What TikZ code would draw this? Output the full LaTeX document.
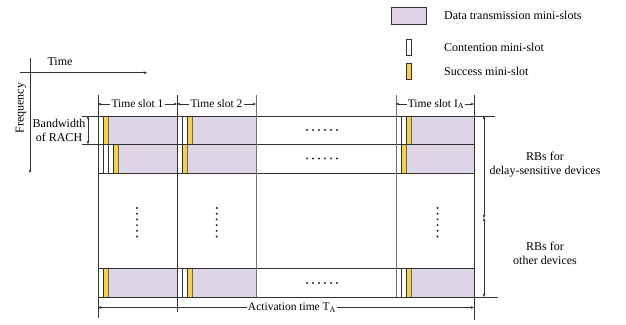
\documentclass[tikz,border=0pt]{standalone}
\usepackage{fontspec}
\setmainfont{Liberation Serif}
\usetikzlibrary{arrows.meta}
\definecolor{dpurple}{RGB}{221,213,229}
\definecolor{syellow}{RGB}{250,206,72}
\definecolor{gline}{RGB}{50,50,50}
\tikzset{
  gridline/.style={draw=gline,line width=0.65pt},
  softline/.style={draw=black!55,line width=0.65pt},
  wslot/.style={draw=gline,line width=0.5pt,fill=white},
  yslot/.style={draw=gline,line width=0.5pt,fill=syellow},
  pslot/.style={draw=black!60,line width=0.5pt,fill=dpurple},
  arr/.style={draw=gline,line width=0.5pt,-{Stealth[length=3.4pt,width=2.8pt]}},
  darr/.style={draw=gline,line width=0.5pt,{Stealth[length=3.4pt,width=2.8pt]}-{Stealth[length=3.4pt,width=2.8pt]}},
  lbl/.style={font=\fontsize{11.5}{13}\selectfont,inner sep=1pt},
  txt/.style={font=\fontsize{12}{14}\selectfont,inner sep=1pt,align=center},
  dotf/.style={fill=black!85}
}
% #1 x0, #2 ytop, #3 ybottom, #4 number of contention mini-slots, #5 xend
\newcommand\slotrow[5]{%
  \foreach \i in {1,...,#4} {\draw[wslot] ({#1+5*(\i-1)},#2) rectangle ({#1+5*\i},#3);}
  \pgfmathsetmacro\ysx{#1+5*#4}
  \draw[yslot] (\ysx,#2) rectangle ({\ysx+5},#3);
  \draw[pslot] ({\ysx+5},#2) rectangle (#5,#3);
}
\newcommand\hdots[2]{\foreach \k in {0,...,5} {\fill[dotf] ({#1+6*\k},#2) circle (1.1pt);}}
\newcommand\vdotsx[2]{\foreach \k in {0,...,5} {\fill[dotf] (#1,{#2+5.7*\k}) circle (1.1pt);}}
\begin{document}
\begin{tikzpicture}[x=1pt,y=-1pt]
\useasboundingbox (0,0) rectangle (626,324);
% legend
\draw[pslot,draw=gline] (391,7) rectangle (426,24);
\node[txt,anchor=west] (lg1) at (443,15.5) {Data transmission mini-slots};
\draw[wslot] (406.7,39) rectangle (411.7,55);
\node[txt,anchor=west] (lg2) at (443,47) {Contention mini-slot};
\draw[yslot] (406.7,63) rectangle (411.7,79);
\node[txt,anchor=west] (lg3) at (443,71) {Success mini-slot};
% axes
\coordinate (fa) at (30,58); \coordinate (fb) at (30,173);
\coordinate (ta) at (20,72.7); \coordinate (tb) at (147,72.7);
\draw[arr] (fa) -- (fb);
\draw[arr] (ta) -- (tb);
\node[txt] (tlab) at (60,61.5) {Time};
\node[txt,rotate=90] (flab) at (21,108) {Frequency};
% slot rows
\slotrow{98}{116}{144}{1}{177}
\slotrow{98}{144}{173}{3}{177}
\slotrow{98}{268}{297}{1}{177}
\slotrow{177}{116}{144}{2}{256}
\slotrow{177}{144}{173}{1}{256}
\slotrow{177}{268}{297}{2}{256}
\slotrow{396}{116}{144}{2}{474}
\slotrow{396}{144}{173}{1}{474}
\slotrow{396}{268}{297}{2}{474}
% grid lines
\draw[gridline] (82,116) -- (495,116);
\draw[gridline] (82,144) -- (474,144);
\draw[gridline] (98,173) -- (474,173);
\draw[gridline] (98,268) -- (474,268);
\draw[gridline] (98,297) -- (498,297);
\draw[gridline] (98,95) -- (98,318);
\draw[gridline] (177,95) -- (177,312);
\draw[softline] (256,95) -- (256,297);
\draw[softline] (396,95) -- (396,297);
\draw[gridline] (474,95) -- (474,320);
% time slot labels
\node[lbl] (s1) at (137.5,104) {Time slot 1};
\draw[arr] (s1.west) -- (98,104);
\draw[arr] (s1.east) -- (177,104);
\node[lbl] (s2) at (216.5,104) {Time slot 2};
\draw[arr] (s2.west) -- (177,104);
\draw[arr] (s2.east) -- (256,104);
\node[lbl] (s3) at (436,104) {Time slot I\textsubscript{A}};
\draw[arr] (s3.west) -- (396,104);
\draw[arr] (s3.east) -- (474,104);
% activation time
\node[lbl] (act) at (292,307.5) {Activation time T\textsubscript{A}};
\draw[arr] (act.west) -- (98,307.5);
\draw[arr] (act.east) -- (474,307.5);
% bandwidth of RACH
\coordinate (bwa) at (88,116); \coordinate (bwb) at (88,144);
\draw[darr] (bwa) -- (bwb);
\node[txt] (bw) at (59,130) {Bandwidth\\of RACH};
% RBs arrows
\coordinate (ra) at (484,116); \coordinate (rm) at (484,218); \coordinate (rb) at (484,297);
\draw[darr] (ra) -- (rm);
\draw[darr] (rm) -- (rb);
\node[txt] (rb1) at (545,165) {RBs for\\delay-sensitive devices};
\node[txt] (rb2) at (545,253) {RBs for\\other devices};
% dots
\hdots{307}{130}
\hdots{307}{158.5}
\hdots{307}{283}
\vdotsx{137}{208}
\vdotsx{216.7}{208}
\vdotsx{437.5}{208}
\end{tikzpicture}
\end{document}
